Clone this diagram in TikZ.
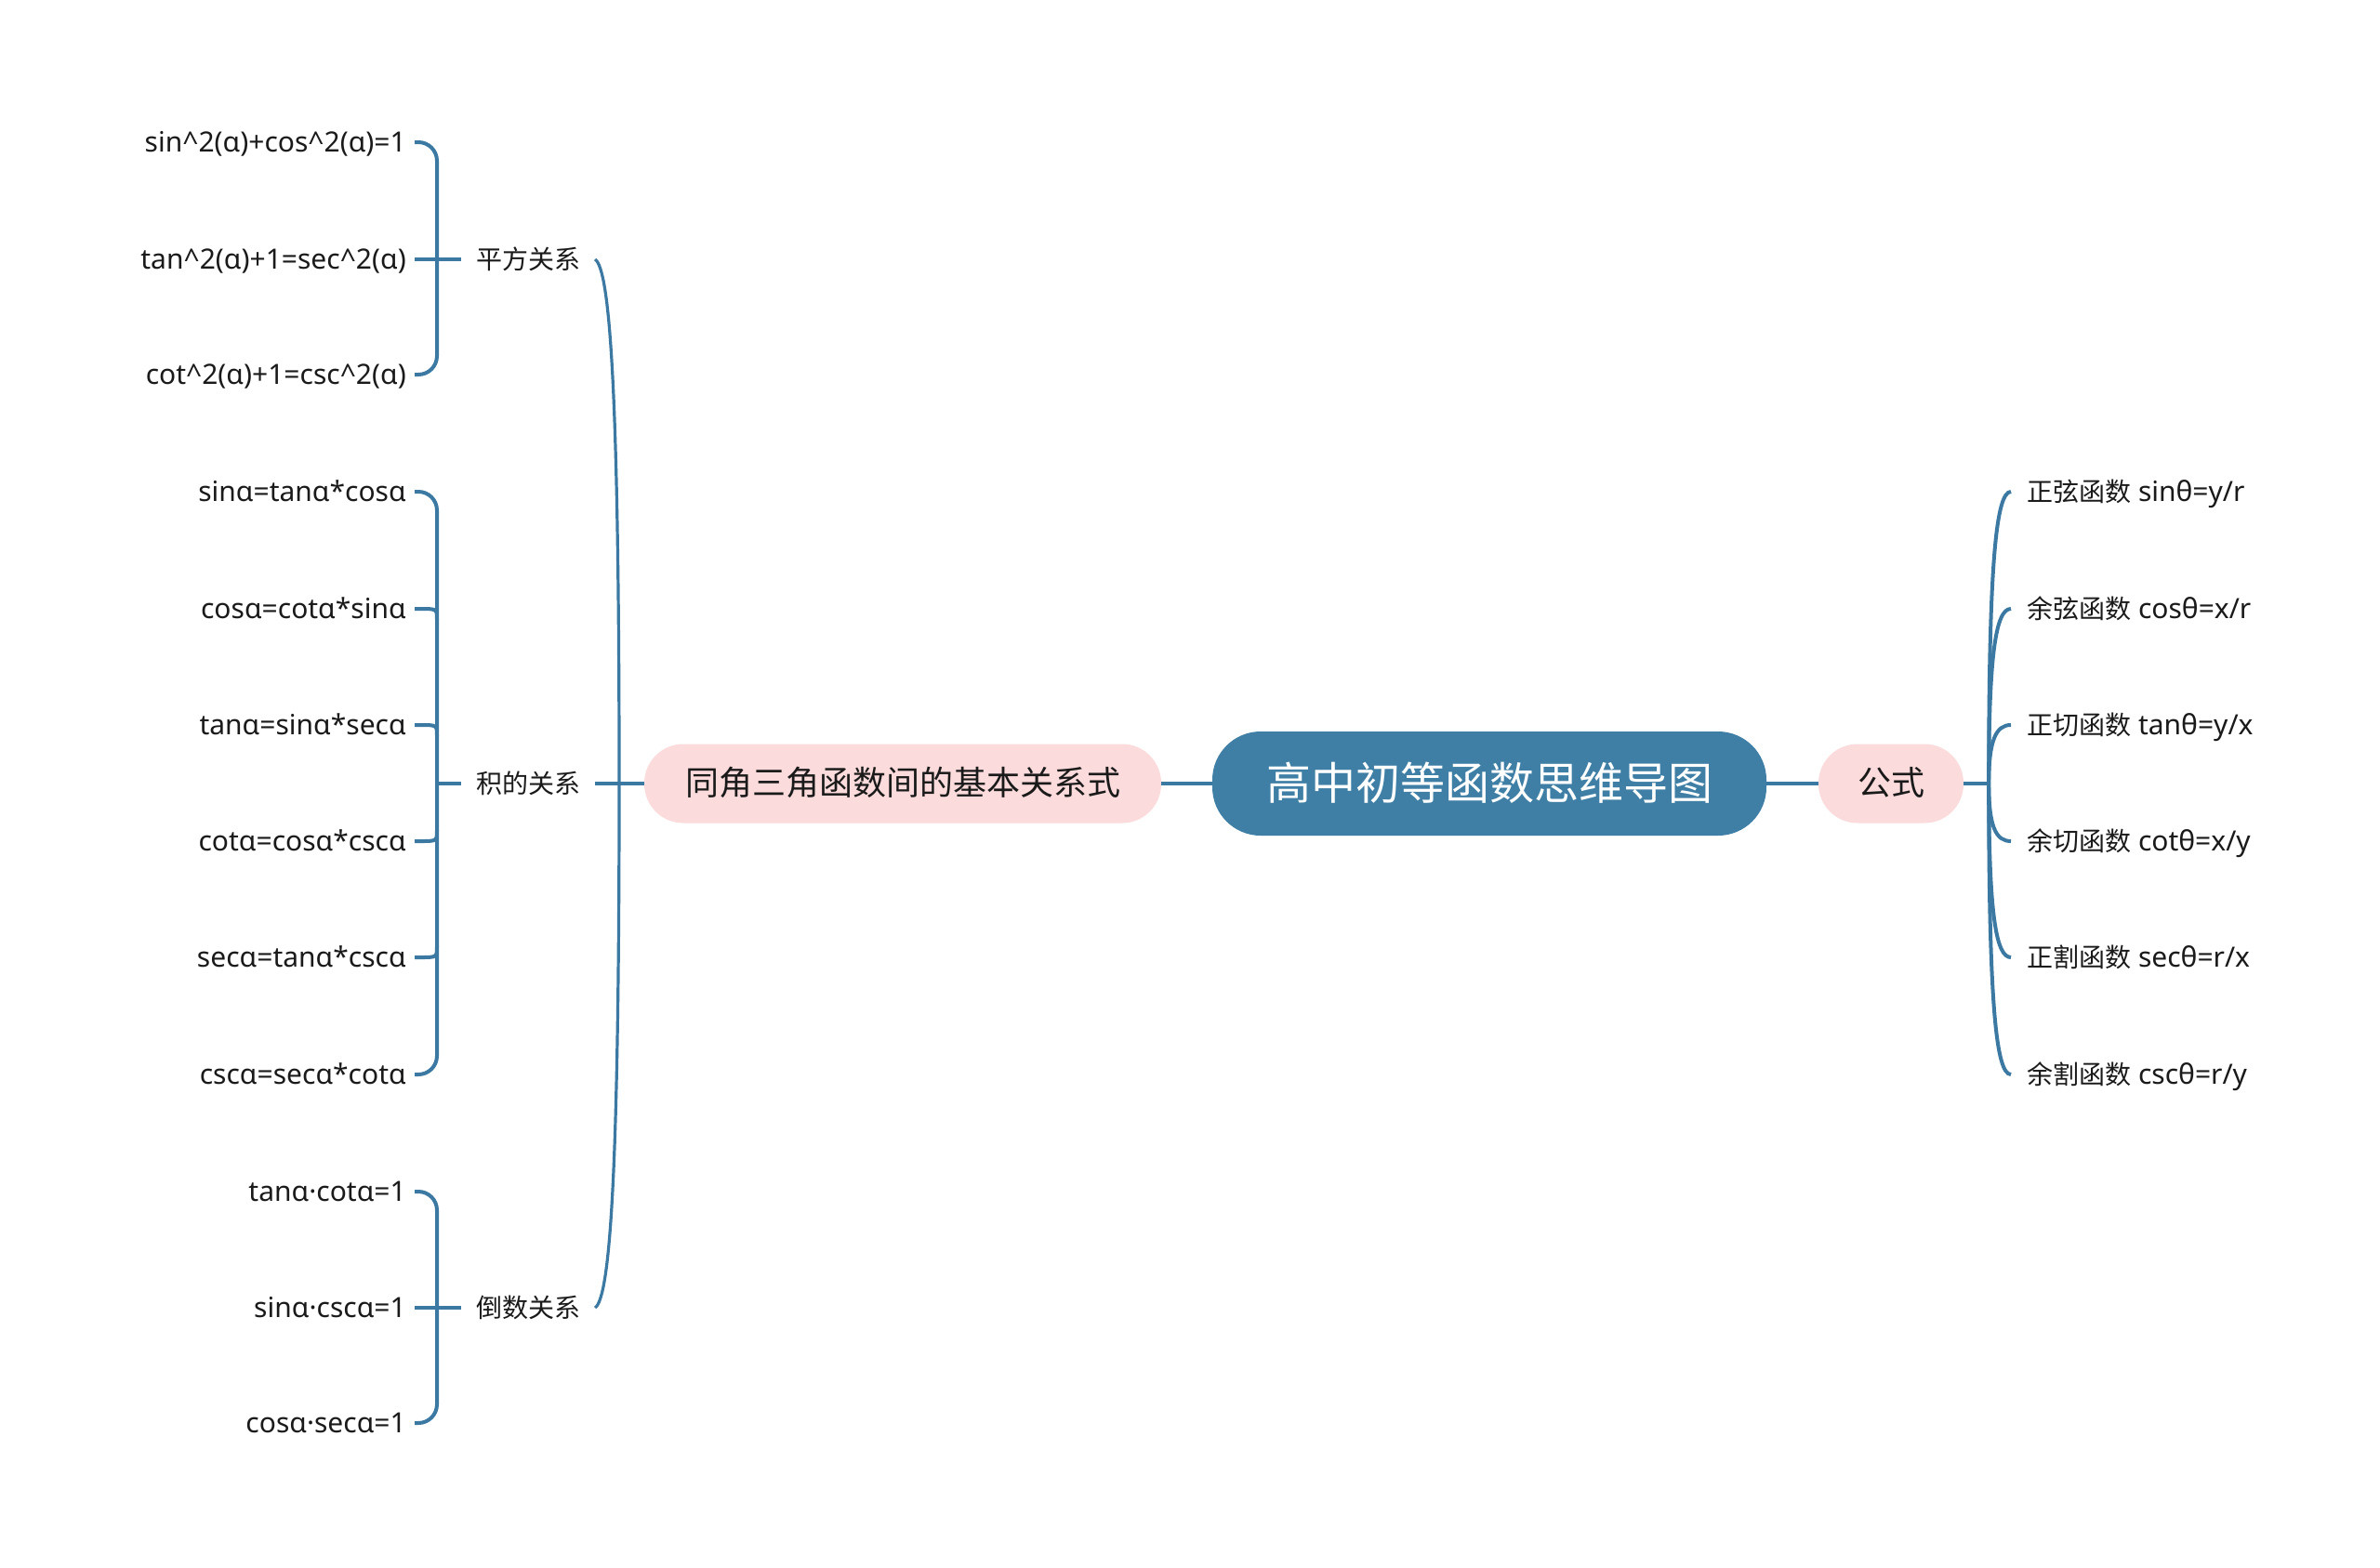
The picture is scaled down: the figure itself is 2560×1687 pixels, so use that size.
\documentclass[tikz,border=0pt]{standalone}
\usepackage{fontspec}
\setmainfont{Noto Sans}
\newfontfamily\cjk{Noto Sans CJK SC}
\usetikzlibrary{calc}
\definecolor{linkc}{HTML}{3B79A2}
\definecolor{rootc}{HTML}{3F7FA5}
\definecolor{pinkc}{HTML}{FBDBDB}
\definecolor{textc}{HTML}{1A1A1A}
\newcommand{\cj}[1]{{\cjk\fontsize{28}{34}\selectfont #1}}
\begin{document}
\begin{tikzpicture}[x=1pt,y=-1pt,
  link/.style={draw=linkc, line width=4pt},
  leafL/.style={anchor=east, inner xsep=9pt, inner ysep=0pt, text height=21pt, text depth=1pt, text=textc, font=\fontsize{30}{34}\selectfont},
  leafR/.style={anchor=west, inner xsep=17pt, inner ysep=0pt, text height=21pt, text depth=1pt, text=textc, font=\fontsize{30}{34}\selectfont},
  subnode/.style={inner xsep=16pt, inner ysep=0pt, text height=21pt, text depth=1pt, text=textc, font=\cjk\fontsize{28}{34}\selectfont},
  rootnode/.style={fill=rootc, rounded corners=52pt, minimum width=596pt, minimum height=112pt, inner sep=0pt, text height=38pt, text depth=4pt, text=white, font=\cjk\fontsize{48}{56}\selectfont},
  mainnode/.style={fill=pinkc, rounded corners=42pt, minimum height=85pt, inner sep=0pt, text height=28pt, text depth=3pt, text=textc, font=\cjk\fontsize{36}{42}\selectfont}]
\useasboundingbox[fill=white] (0,0) rectangle (2560,1687);

% central and main nodes
\node[rootnode] (C) at (1602,843) {高中初等函数思维导图};
\node[mainnode, minimum width=556pt] (L) at (971,843) {同角三角函数间的基本关系式};
\node[mainnode, minimum width=156pt] (F) at (2034,843) {公式};

% sub nodes
\node[subnode] (sqn) at (568,279) {平方关系};
\node[subnode] (pmn) at (568,843) {积的关系};
\node[subnode] (rcn) at (568,1407) {倒数关系};

% left leaves
\node[leafL] (sq1) at (446,153) {sin\textasciicircum 2(α)+cos\textasciicircum 2(α)=1};
\node[leafL] (sq2) at (446,279) {tan\textasciicircum 2(α)+1=sec\textasciicircum 2(α)};
\node[leafL] (sq3) at (446,403) {cot\textasciicircum 2(α)+1=csc\textasciicircum 2(α)};

\node[leafL] (p1) at (446,529) {sinα=tanα*cosα};
\node[leafL] (p2) at (446,655) {cosα=cotα*sinα};
\node[leafL] (p3) at (446,780) {tanα=sinα*secα};
\node[leafL] (p4) at (446,905) {cotα=cosα*cscα};
\node[leafL] (p5) at (446,1030) {secα=tanα*cscα};
\node[leafL] (p6) at (446,1156) {cscα=secα*cotα};

\node[leafL] (rc1) at (446,1282) {tanα·cotα=1};
\node[leafL] (rc2) at (446,1407) {sinα·cscα=1};
\node[leafL] (rc3) at (446,1531) {cosα·secα=1};

% right leaves
\node[leafR] (r1) at (2163,529) {\cj{正弦函数} sinθ=y/r};
\node[leafR] (r2) at (2163,655) {\cj{余弦函数} cosθ=x/r};
\node[leafR] (r3) at (2163,780) {\cj{正切函数} tanθ=y/x};
\node[leafR] (r4) at (2163,905) {\cj{余切函数} cotθ=x/y};
\node[leafR] (r5) at (2163,1030) {\cj{正割函数} secθ=r/x};
\node[leafR] (r6) at (2163,1156) {\cj{余割函数} cscθ=r/y};

% central connectors
\draw[link] (L.east) -- (C.west);
\draw[link] (C.east) -- (F.west);

% left main branch
\coordinate (J) at (666,843);
\draw[link, line width=3.2pt] (pmn.east) -- (L.west);
\draw[link, line width=3.2pt] (J) .. controls +(0,-420) and +(16,12) .. (sqn.east);
\draw[link, line width=3.2pt] (J) .. controls +(0,420) and +(16,-12) .. (rcn.east);

% brackets: square relation
\draw[link, rounded corners=20pt] (sq1.east) -| ([xshift=24pt]sq3.east) -- (sq3.east);
\draw[link] (sq2.east) -- (sqn.west);

% brackets: product relation
\draw[link, rounded corners=20pt] (p1.east) -| ([xshift=24pt]p6.east) -- (p6.east);
\draw[link] (p2.east) -- ++(6,0) .. controls +(18,0) and +(0,-12) .. ([xshift=24pt,yshift=-12pt]p2.east);
\draw[link] (p3.east) -- ++(6,0) .. controls +(18,0) and +(0,-12) .. ([xshift=24pt,yshift=-12pt]p3.east);
\draw[link] (p4.east) -- ++(6,0) .. controls +(18,0) and +(0,12) .. ([xshift=24pt,yshift=12pt]p4.east);
\draw[link] (p5.east) -- ++(6,0) .. controls +(18,0) and +(0,12) .. ([xshift=24pt,yshift=12pt]p5.east);
\draw[link] (pmn.west) -- ++(-27,0);

% brackets: reciprocal relation
\draw[link, rounded corners=20pt] (rc1.east) -| ([xshift=24pt]rc3.east) -- (rc3.east);
\draw[link] (rc2.east) -- (rcn.west);

% right branch
\coordinate (R) at ([xshift=27pt]F.east);
\draw[link] (F.east) -- (R);
\draw[link] (R) .. controls +(0,-236) and +(-16,0) .. (r1.west);
\draw[link] (R) .. controls +(0,-141) and +(-16,0) .. (r2.west);
\draw[link] (R) .. controls +(0,-47) and +(-16,0) .. (r3.west);
\draw[link] (R) .. controls +(0,47) and +(-16,0) .. (r4.west);
\draw[link] (R) .. controls +(0,141) and +(-16,0) .. (r5.west);
\draw[link] (R) .. controls +(0,236) and +(-16,0) .. (r6.west);
\end{tikzpicture}
\end{document}
